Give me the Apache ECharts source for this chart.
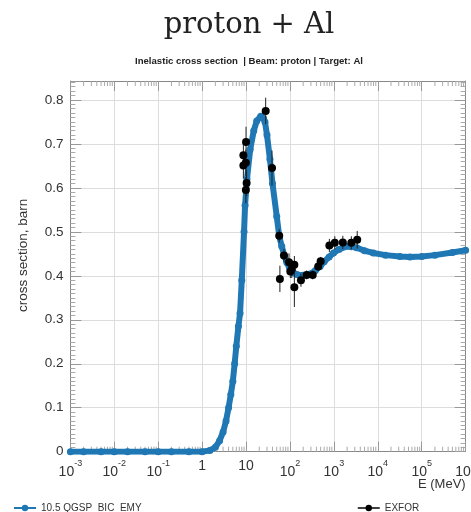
<!DOCTYPE html>
<html><head><meta charset="utf-8">
<script src="https://cdn.jsdelivr.net/npm/echarts@6/dist/echarts.min.js"></script>
<style>html,body{margin:0;padding:0;background:#fff}#c{width:471px;height:512px}</style>
</head><body><div id="c"></div>
<script>
// Model curve: 10.5 QGSP_BIC_EMY (energy in MeV, cross section in barn)
var modelE = [0.001,0.002,0.005,0.01,0.02,0.05,0.1,0.2,0.5,1.0,1.5,2.0,2.5,3.0,3.5,4.0,4.5,5.0,5.5,6.0,6.7,7.3,8.0,9.0,9.5,10.5,12.4,15,17.5,21.6,25,27,30,35,40,50,57,65,75,85,100,120,143,200,287,380,485,600,780,980,1300,1970,2500,3300,5000,7900,15000,32000,54000,100000,200000,500000,1000000];
var modelXS = [0,0,0,0,0,0,0,0,0,0,0.003,0.01,0.025,0.045,0.07,0.10,0.13,0.16,0.20,0.24,0.285,0.315,0.39,0.50,0.56,0.62,0.687,0.73,0.752,0.763,0.758,0.75,0.72,0.665,0.61,0.535,0.49,0.467,0.445,0.43,0.415,0.407,0.403,0.401,0.404,0.412,0.421,0.432,0.443,0.452,0.46,0.467,0.466,0.464,0.457,0.452,0.447,0.444,0.443,0.444,0.447,0.453,0.458];
// EXFOR data
var exforE  = [8.7,8.7,9.9,10.0,10.3,9.9,28,39,57,59,73,95,102,110,126,126,178,240,330,440,500,790,1050,1600,2500,3400];
var exforXS = [0.674,0.651,0.657,0.704,0.611,0.595,0.775,0.645,0.491,0.393,0.446,0.431,0.410,0.415,0.425,0.374,0.390,0.402,0.402,0.421,0.433,0.469,0.475,0.476,0.475,0.482];
var exforErr= [0.03,0.03,0.03,0.035,0.03,0.03,0.03,0.04,0.015,0.03,0.015,0.02,0.015,0.02,0.02,0.045,0.015,0.01,0.01,0.01,0.01,0.015,0.015,0.015,0.015,0.02];
// axis ticks
var xMin = 1e-3, xMax = 1e6;
var yTicks = [0,0.1,0.2,0.3,0.4,0.5,0.6,0.7,0.8];
var yMax = 0.843;

var chart = echarts.init(document.getElementById('c'));
var modelData = modelE.map(function(e,i){return [e, modelXS[i]];});
var exforData = exforE.map(function(e,i){return [e, exforXS[i]];});
var errData = exforE.map(function(e,i){return [e, exforXS[i]-exforErr[i], exforXS[i]+exforErr[i]];});
var minorVals = [];
for (var p=-3; p<6; p++) { for (var k=2;k<10;k++) minorVals.push([k*Math.pow(10,p)]); }

function xfmt(v){
  var n = Math.round(Math.log10(v));
  if (n===0) return '1';
  if (n===1) return '10';
  return '{b|10}{s|' + n + '}';
}
function yfmt(v){
  for (var i=0;i<yTicks.length;i++){ if (Math.abs(v-yTicks[i])<1e-6) return String(yTicks[i]); }
  return '';
}
var font = 'Liberation Sans';
chart.setOption({
  animation:false,
  backgroundColor:'#fff',
  title:[{
    text:'proton + Al', left:244, textAlign:'center', top:6,
    textStyle:{fontFamily:'DejaVu Serif', fontSize:29, fontWeight:'normal', color:'#222'}
  },{
    text:'{bb|Inelastic cross section}{n|  | }{bb|Beam}{n|: proton | }{bb|Target}{n|: Al}',
    left:244, textAlign:'center', top:51,
    textStyle:{rich:{bb:{fontFamily:font,fontSize:9.6,fontWeight:'bold',color:'#222'},n:{fontFamily:font,fontSize:9.6,color:'#222'}}}
  }],
  legend:[{
    data:['10.5 QGSP_BIC_EMY'], left:8, top:496, itemWidth:22, itemHeight:8, itemGap:4,
    textStyle:{fontFamily:font, fontSize:10, color:'#333', lineHeight:14}
  },{
    data:[{name:'EXFOR', lineStyle:{width:1.5, opacity:1, color:'#000'}}], left:352, top:496, itemWidth:22, itemHeight:8,
    textStyle:{fontFamily:font, fontSize:10, color:'#333', lineHeight:14}
  }],
  grid:{left:70.4, right:5.4, top:81, bottom:60.3, containLabel:false, outerBoundsMode:'none'},
  xAxis:[{
    type:'log', min:xMin, max:xMax, logBase:10,
    axisLine:{show:true, onZero:false, lineStyle:{color:'#888', width:1}},
    axisTick:{show:true, inside:true, length:10, lineStyle:{color:'#999'}},
    axisLabel:{formatter:xfmt, margin:7, color:'#333', fontFamily:font, fontSize:14,
      rich:{b:{fontSize:14, fontFamily:font, color:'#333', verticalAlign:'bottom', lineHeight:20},
            s:{fontSize:9, fontFamily:font, color:'#333', verticalAlign:'top', lineHeight:20}}},
    splitLine:{show:true, lineStyle:{color:'#ddd', width:1}},
    name:'E (MeV)', nameLocation:'end', nameGap:-47.6, nameMoveOverlap:false,
    nameTextStyle:{fontFamily:font, fontSize:13, color:'#333', align:'left', verticalAlign:'top', padding:[26,0,0,0]}
  },{
    type:'log', min:xMin, max:xMax, position:'top',
    axisLine:{show:true, onZero:false, lineStyle:{color:'#888'}},
    axisTick:{show:true, inside:true, length:10, lineStyle:{color:'#999'}},
    axisLabel:{show:false}, splitLine:{show:false}
  }],
  yAxis:[{
    type:'value', min:0, max:yMax, interval:0.1,
    axisLine:{show:true, onZero:false, lineStyle:{color:'#888'}},
    axisTick:{show:true, inside:true, length:11, lineStyle:{color:'#999'}},
    minorTick:{show:true, splitNumber:10, length:5, lineStyle:{color:'#aaa'}},
    axisLabel:{margin:7, color:'#333', fontFamily:font, fontSize:13.5, formatter:yfmt},
    splitLine:{show:true, lineStyle:{color:'#ddd'}},
    name:'cross section, barn', nameLocation:'middle', nameGap:40, nameRotate:90,
    nameTextStyle:{fontFamily:font, fontSize:13.5, color:'#333', padding:[0,0,0,22]}
  },{
    type:'value', min:0, max:yMax, interval:0.1, position:'right',
    axisLine:{show:true, onZero:false, lineStyle:{color:'#888'}},
    axisTick:{show:true, inside:true, length:11, lineStyle:{color:'#999'}},
    minorTick:{show:true, splitNumber:10, length:5, lineStyle:{color:'#aaa'}},
    axisLabel:{show:false}, splitLine:{show:false}
  }],
  series:[{
    name:'minorTicks', type:'custom', silent:true, data:minorVals, z:1,
    renderItem:function(params, api){
      var b = api.coord([api.value(0), 0]);
      var t = api.coord([api.value(0), yMax]);
      return {type:'group', children:[
        {type:'line', shape:{x1:b[0],y1:b[1],x2:b[0],y2:b[1]-5}, style:{stroke:'#aaa', lineWidth:1}},
        {type:'line', shape:{x1:t[0],y1:t[1],x2:t[0],y2:t[1]+5}, style:{stroke:'#aaa', lineWidth:1}}
      ]};
    }
  },{
    name:'10.5 QGSP_BIC_EMY', type:'line', data:modelData, z:3,
    color:'#1f77b4', symbol:'circle', symbolSize:7, showSymbol:true,
    itemStyle:{color:'#1f77b4'}, lineStyle:{color:'#1f77b4', width:6}
  },{
    name:'EXFOR_err', type:'custom', z:4, data:errData, silent:true,
    renderItem:function(params, api){
      var lo = api.coord([api.value(0), api.value(1)]);
      var hi = api.coord([api.value(0), api.value(2)]);
      return {type:'line', shape:{x1:lo[0],y1:lo[1],x2:hi[0],y2:hi[1]}, style:{stroke:'#222', lineWidth:1}};
    }
  },{
    name:'EXFOR', type:'line', data:exforData, z:5, color:'#000',
    symbol:'circle', symbolSize:8, lineStyle:{width:0, opacity:0},
    itemStyle:{color:'#000'}
  }]
});
</script></body></html>
